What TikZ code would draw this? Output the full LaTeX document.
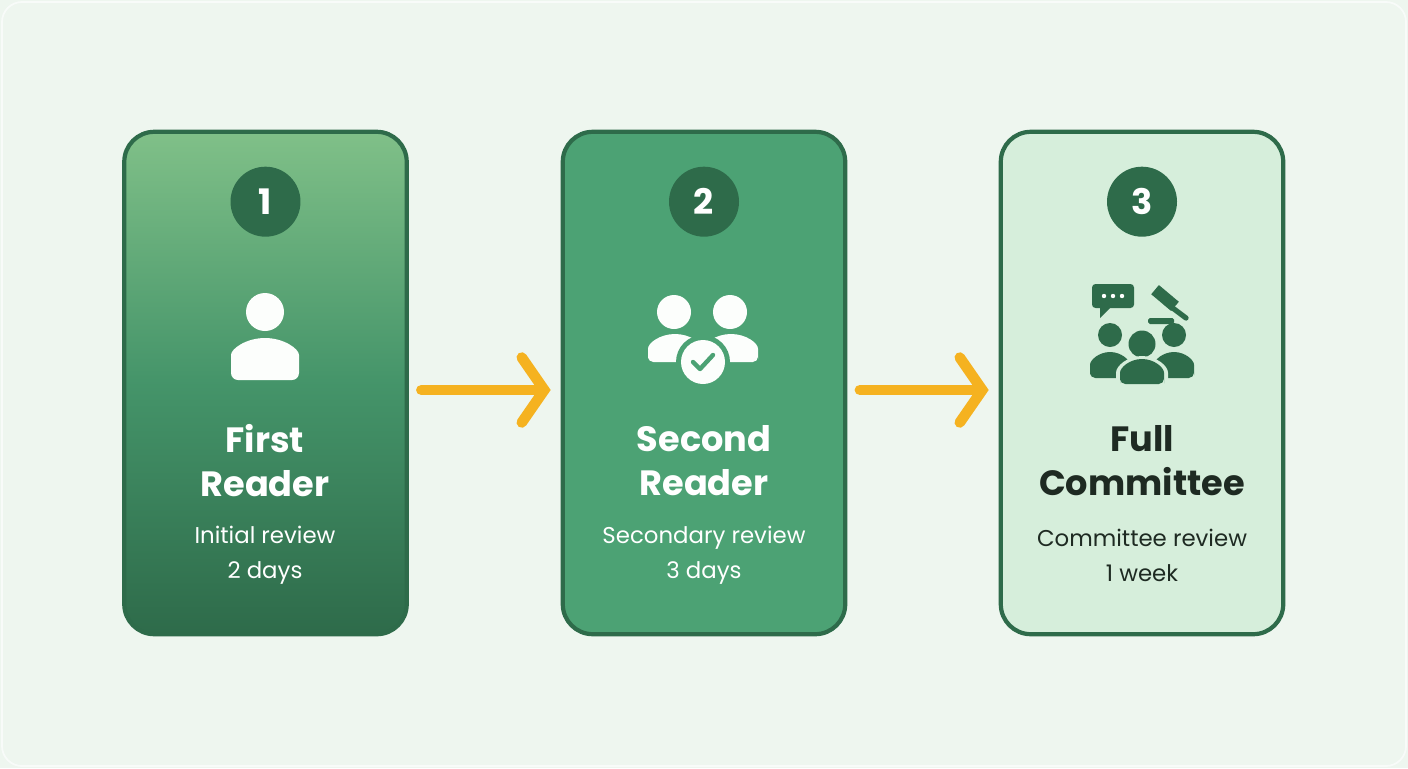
\documentclass[tikz,border=0pt]{standalone}
\usepackage{fontspec}
\setmainfont{Poppins}
\usetikzlibrary{positioning, arrows.meta}
\definecolor{bgc}{HTML}{EEF6EF}
\definecolor{dgreen}{HTML}{2E6B4A}
\definecolor{lgreen}{HTML}{80C088}
\definecolor{mgreen}{HTML}{4CA274}
\definecolor{pgreen}{HTML}{D6EEDB}
\definecolor{arrowc}{HTML}{F5B220}
\definecolor{ink}{HTML}{1E2A22}
\tikzset{
  card/.style={draw=dgreen, line width=2.4pt, rounded corners=0.6cm, minimum width=5.65cm, minimum height=10.05cm},
  badge/.style={circle, fill=dgreen, minimum size=1.4cm, text=white, font=\bfseries\fontsize{20}{20}\selectfont},
  title/.style={align=center, font=\bfseries\fontsize{20}{25}\selectfont},
  sub/.style={align=center, font=\fontsize{13}{20}\selectfont},
  flow/.style={draw=arrowc, line width=6pt, line cap=round, -{Straight Barb[length=0.45cm, width=1.3cm, line cap=round]}}
}
\begin{document}
\begin{tikzpicture}[x=0.02cm, y=-0.02cm]

    % the frame
    \fill[bgc] (0,0) rectangle (1408,768);
    \draw[white!60!bgc, line width=1pt, rounded corners=0.4cm] (2,2) rectangle (1406,766);

    % the cards
    \node[card, top color=lgreen, bottom color=dgreen, middle color=mgreen!75!dgreen] (c1) at (265.5,383) {};
    \node[card, fill=mgreen] (c2) at (704,383) {};
    \node[card, fill=pgreen] (c3) at (1142,383) {};

    % badges
    \foreach \c/\n in {c1/1, c2/2, c3/3}
        \node[badge] (b\n) at ([yshift=-1.44cm]\c.north) {\n};

    % titles
    \node[title, text=white] (t1) at (265,461) {First\\Reader};
    \node[title, text=white] (t2) at (704,461) {Second\\Reader};
    \node[title, text=ink] (t3) at (1142,461) {Full\\Committee};
    \node[sub, text=white] (s1) at (265,555) {Initial review\\2 days};
    \node[sub, text=white] (s2) at (704,555) {Secondary review\\3 days};
    \node[sub, text=ink] (s3) at (1142,555) {Committee review\\1 week};

    % icon 1
    \fill[white!92!pgreen] (265,312) circle (19);
    \fill[white!92!pgreen, rounded corners=4pt] (231,380) -- (231,362) arc (180:360:34 and 24) -- (299,380) -- cycle;

    % icon 2
    \fill[white!92!pgreen] (674,312) circle (17) (730,312) circle (17);
    \fill[white!92!pgreen, rounded corners=3pt] (648,362) -- (648,354) arc (180:360:27 and 20) -- (702,362) -- cycle;
    \fill[white!92!pgreen, rounded corners=3pt] (704,362) -- (704,354) arc (180:360:27 and 20) -- (758,362) -- cycle;
    \fill[mgreen] (703,362) circle (27);
    \fill[white!92!pgreen] (703,362) circle (22);
    \draw[mgreen, line width=2.5pt, line cap=round, line join=round] (693,362) -- (700,369) -- (713,355);

    % icon 3
    \fill[dgreen, rounded corners=2pt] (1092,284) rectangle (1134,308);
    \fill[dgreen] (1100,306) -- (1112,306) -- (1100,318) -- cycle;
    \foreach \k in {1104,1113,1122} \fill[white] (\k,296) circle (2.2);
    \fill[dgreen, rotate around={-40:(1165,298)}] (1152,292) rectangle (1178,304);
    \draw[dgreen, line width=3pt, line cap=round] (1166,303) -- (1186,318);
    \fill[dgreen, rounded corners=1pt] (1148,318) rectangle (1174,324);
    \fill[dgreen] (1110,335) circle (12) (1174,335) circle (12);
    \fill[dgreen, rounded corners=3pt] (1090,378) -- (1090,370) arc (180:360:20 and 18) -- (1130,378) -- cycle;
    \fill[dgreen, rounded corners=3pt] (1154,378) -- (1154,370) arc (180:360:20 and 18) -- (1194,378) -- cycle;
    \fill[pgreen] (1142,344) circle (17);
    \fill[dgreen] (1142,344) circle (13.5);
    \fill[pgreen, rounded corners=3pt] (1116,386) -- (1116,378) arc (180:360:26 and 22) -- (1168,386) -- cycle;
    \fill[dgreen, rounded corners=3pt] (1120,384) -- (1120,378) arc (180:360:22 and 19) -- (1164,384) -- cycle;

    % arrows
    \coordinate (a1) at ([xshift=0.25cm, yshift=-0.14cm]c1.east);
    \coordinate (a2) at ([xshift=0.25cm, yshift=-0.14cm]c2.east);
    \draw[flow] (a1) -- ([xshift=-0.2cm]c2.west |- a1);
    \draw[flow] (a2) -- ([xshift=-0.2cm]c3.west |- a2);
\end{tikzpicture}
\end{document}
